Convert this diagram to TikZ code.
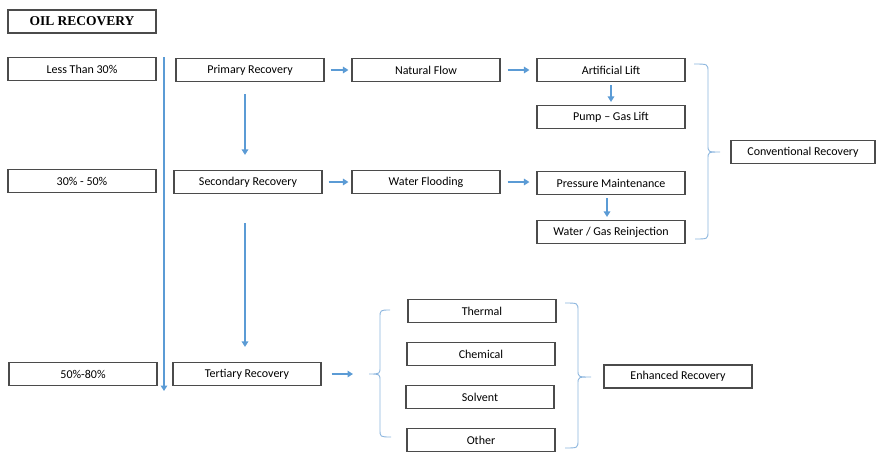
\documentclass[tikz,border=0pt]{standalone}
\usepackage{fontspec}
\setmainfont{Carlito}
\newfontfamily\titlefont{Liberation Serif}
\usetikzlibrary{arrows.meta,calc}
\definecolor{arrowblue}{RGB}{91,155,213}
\definecolor{braceblue}{RGB}{140,182,222}
\definecolor{boxgray}{RGB}{75,75,75}
\begin{document}
\begin{tikzpicture}[x=1pt,y=-1pt,
  box/.style={draw=boxgray, line width=1.1pt, minimum width=148pt, minimum height=23pt,
    inner sep=0pt, font=\fontsize{12}{14}\selectfont, text=black},
  arr/.style={draw=arrowblue, line width=1.5pt, -{Triangle[length=5.5pt,width=6.5pt]}},
  bracestyle/.style={draw=braceblue, line width=0.9pt}]
\useasboundingbox (0,0) rectangle (876,451);
% title
\node[box, font=\titlefont\bfseries\fontsize{13.5}{15}\selectfont, text=black] (title) at (82,21.5) {OIL RECOVERY};
% left column
\node[box] (l1) at (82,69) {Less Than 30\%};
\node[box] (l2) at (82,181) {30\% - 50\%};
\node[box] (l3) at (83,374) {50\%-80\%};
% recovery column
\node[box] (pr) at (250,70) {Primary Recovery};
\node[box] (sr) at (248,182) {Secondary Recovery};
\node[box] (tr) at (247,374) {Tertiary Recovery};
% row 1
\node[box] (nf) at (426,70) {Natural Flow};
\node[box] (al) at (611,70) {Artificial Lift};
\node[box] (pg) at (611,117) {Pump -- Gas Lift};
% row 2
\node[box] (wf) at (426,182) {Water Flooding};
\node[box] (pm) at (611,183) {Pressure Maintenance};
\node[box] (wg) at (611,232) {Water / Gas Reinjection};
% conventional
\node[box, minimum width=144pt] (cr) at (803,152) {Conventional Recovery};
% enhanced
\node[box] (th) at (482,311) {Thermal};
\node[box] (ch) at (481,354) {Chemical};
\node[box] (so) at (480,397) {Solvent};
\node[box] (ot) at (481,440) {Other};
\node[box] (er) at (678,376.5) {Enhanced Recovery};
% long vertical line
\coordinate (vtop) at (164,57);
\coordinate (vbot) at (164,391);
\draw[arr] (vtop) -- (vbot);
% vertical arrows
\draw[arr, shorten <=12pt, shorten >=15pt] (pr.south -| 245,0) -- (sr.north -| 245,0);
\draw[arr, shorten <=29pt, shorten >=15pt] (sr.south -| 245,0) -- (tr.north -| 245,0);
\draw[arr, shorten <=3pt, shorten >=3pt] (al.south) -- (pg.north);
\draw[arr, shorten <=3pt, shorten >=3pt] (pm.south -| 607,0) -- (wg.north -| 607,0);
% horizontal arrows
\draw[arr, shorten <=6pt, shorten >=3pt] (pr.east) -- (nf.west);
\draw[arr, shorten <=7pt, shorten >=7pt] (nf.east) -- (al.west);
\draw[arr, shorten <=6pt, shorten >=3pt] (sr.east) -- (wf.west);
\draw[arr, shorten <=7pt, shorten >=7pt] (wf.east) -- (pm.west |- wf.east);
\coordinate (lbtip) at (369,374);
\draw[arr, shorten <=10pt, shorten >=16pt] (tr.east) -- (lbtip);
% brace: conventional (facing right)
\draw[bracestyle] (694,64) .. controls (708,64) .. (708,72) -- (708,145)
  .. controls (708,152) .. (720,152) .. controls (708,152) .. (708,159)
  -- (708,231) .. controls (708,239) .. (695,239);
% brace: left of enhanced options (facing left)
\draw[bracestyle] (390,310) .. controls (380,310) .. (380,318) -- (380,367)
  .. controls (380,374) .. (369,374) .. controls (380,374) .. (380,381)
  -- (380,429) .. controls (380,437) .. (391,437);
% brace: right of enhanced options (facing right)
\draw[bracestyle] (565,303) .. controls (578,303) .. (578,311) -- (578,370)
  .. controls (578,377) .. (591,377) .. controls (578,377) .. (578,384)
  -- (578,440) .. controls (578,448) .. (565,448);
\end{tikzpicture}
\end{document}
